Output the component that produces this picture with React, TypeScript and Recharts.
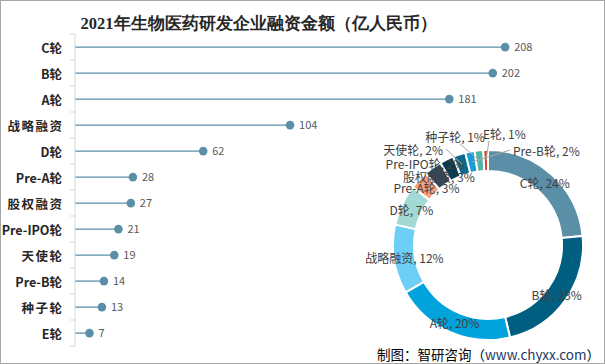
import { ComposedChart, Bar, XAxis, YAxis, LabelList, PieChart, Pie, Cell } from 'recharts';

// 2021 biomedical R&D financing by round (亿人民币)
const categories = ['C轮', 'B轮', 'A轮', '战略融资', 'D轮', 'Pre-A轮', '股权融资', 'Pre-IPO轮', '天使轮', 'Pre-B轮', '种子轮', 'E轮'];
const amounts = [208, 202, 181, 104, 62, 28, 27, 21, 19, 14, 13, 7];
// percentages as printed on the donut labels
const sharePct = [24, 23, 20, 12, 7, 3, 3, 2, 2, 2, 1, 1];

const sliceColors = [
  '#5b8fa8', '#005f80', '#00a3dc', '#6dcff6', '#a3d9d5', '#f4a07f',
  '#34495a', '#0d3b4f', '#0b6a8a', '#1b9bd7', '#4fb3a5', '#d24726',
];

const W = 605;
const H = 364;
const TOP = 34;
const BOTTOM = 18;
const LINE_COLOR = '#5b8fa8';
const CJK = '"Noto Sans CJK SC", "Microsoft YaHei", sans-serif';

const rows = categories.map((name, i) => ({ name, value: amounts[i] }));
const slices = categories.map((name, i) => ({ name, value: amounts[i], pct: sharePct[i] }));

const band = (H - TOP - BOTTOM) / categories.length;

function CategoryTick({ x, y, payload, index }: any) {
  const isLast = index === categories.length - 1;
  // the all-Chinese labels are spaced out a little in the original
  const spaced = !/[A-Za-z]/.test(payload.value);
  return (
    <g>
      <line x1={x + 8} x2={x + 13} y1={y - band / 2} y2={y - band / 2} stroke="#d9d9d9" />
      {isLast && <line x1={x + 8} x2={x + 13} y1={y + band / 2} y2={y + band / 2} stroke="#d9d9d9" />}
      <text
        x={spaced ? x + 1.5 : x}
        y={y}
        textAnchor="end"
        dominantBaseline="central"
        fontSize={12.5}
        fontWeight="bold"
        fill="#262626"
        fontFamily={CJK}
        letterSpacing={spaced ? 1.5 : 0}
      >
        {payload.value}
      </text>
    </g>
  );
}

function Lollipop({ x, y, width, height }: any) {
  const cy = y + height / 2;
  return (
    <g>
      <line x1={x} x2={x + width} y1={cy} y2={cy} stroke={LINE_COLOR} strokeWidth={1.3} />
      <circle cx={x + width} cy={cy} r={4.3} fill={LINE_COLOR} />
    </g>
  );
}

const RADIAN = Math.PI / 180;

// small slices get their labels pulled outside, like the original
const outside: Record<number, { dx: number; dy: number; anchor: string; from?: [number, number] }> = {
  7: { dx: -63, dy: -82, anchor: 'middle' },
  8: { dx: -45, dy: -96, anchor: 'end', from: [-42, -96] },
  9: { dx: 25, dy: -95, anchor: 'start', from: [22, -95] },
  10: { dx: -33, dy: -109, anchor: 'middle', from: [-28, -101] },
  11: { dx: -5, dy: -112, anchor: 'start', from: [1, -104] },
};

function SliceLabel(props: any) {
  const { cx, cy, midAngle, innerRadius, outerRadius, index, name } = props;
  const text = `${name}, ${sharePct[index]}%`;
  const r = (innerRadius + outerRadius) / 2;
  const mx = cx + r * Math.cos(-midAngle * RADIAN);
  const my = cy + r * Math.sin(-midAngle * RADIAN);
  const o = outside[index];
  if (!o) {
    return (
      <text x={mx} y={my} textAnchor="middle" dominantBaseline="central" fontSize={12} fill="#404040" fontFamily={CJK}>
        {text}
      </text>
    );
  }
  return (
    <g>
      {o.from && (
        <line x1={cx + o.from[0]} y1={cy + o.from[1]} x2={mx} y2={my} stroke="#a6a6a6" strokeWidth={1} />
      )}
      <text x={cx + o.dx} y={cy + o.dy} textAnchor={o.anchor as any} dominantBaseline="central" fontSize={12} fill="#404040" fontFamily={CJK}>
        {text}
      </text>
    </g>
  );
}

export default function App() {
  return (
    <div style={{ position: 'absolute', left: 0, top: 0, width: W, height: H, background: '#fff', overflow: 'hidden' }}>
      <div style={{ position: 'absolute', left: 0, top: 0, width: W, height: H, border: '1px solid #a6a6a6', boxSizing: 'border-box' }} />
      <div style={{ position: 'absolute', left: 0, top: 13, width: 517, textAlign: 'center', fontSize: 16.5, fontWeight: 'bold', fontFamily: 'serif', color: '#262626', lineHeight: '22px' }}>
        2021年生物医药研发企业融资金额（亿人民币）
      </div>

      <div style={{ position: 'absolute', left: 0, top: 0 }}>
        <ComposedChart width={W} height={H} data={rows} layout="vertical" margin={{ top: TOP, right: 13, bottom: BOTTOM, left: 0 }}>
          <XAxis type="number" domain={[0, 250]} hide />
          <YAxis
            type="category"
            dataKey="name"
            width={75}
            axisLine={{ stroke: '#d9d9d9' }}
            tickLine={false}
            tickSize={5}
            tickMargin={8}
            interval={0}
            tick={<CategoryTick />}
          />
          <Bar dataKey="value" shape={<Lollipop />} isAnimationActive={false}>
            <LabelList dataKey="value" position="right" offset={9} fill="#595959" fontSize={11} fontFamily={CJK} />
          </Bar>
        </ComposedChart>
      </div>

      <div style={{ position: 'absolute', left: 0, top: 0 }}>
        <PieChart width={W} height={H}>
          <Pie
            data={slices}
            dataKey="value"
            nameKey="name"
            cx={483}
            cy={240}
            innerRadius={74}
            outerRadius={95}
            startAngle={90}
            endAngle={-270}
            stroke="#fff"
            strokeWidth={2}
            labelLine={false}
            label={SliceLabel}
            isAnimationActive={false}
          >
            {slices.map((s, i) => (
              <Cell key={s.name} fill={sliceColors[i]} />
            ))}
          </Pie>
        </PieChart>
      </div>

      <div style={{ position: 'absolute', left: 377, top: 345, fontSize: 13.5, fontFamily: CJK, color: '#000', lineHeight: '18px', whiteSpace: 'nowrap' }}>
        制图：智研咨询（<span style={{ color: '#1f3864' }}>www.chyxx.com</span>）
      </div>
    </div>
  );
}
